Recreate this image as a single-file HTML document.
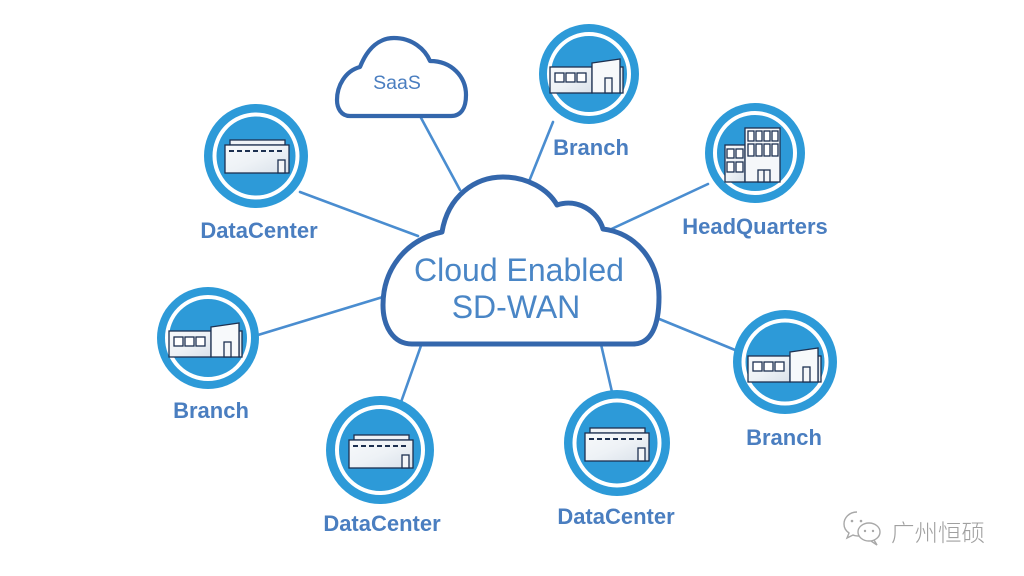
<!DOCTYPE html>
<html><head><meta charset="utf-8">
<style>
html,body{margin:0;padding:0;background:#fff;}
svg{display:block;}
.lbl{font-family:"Liberation Sans",Arial,sans-serif;font-weight:bold;font-size:22px;fill:#4a7ec0;text-anchor:middle;}
.main{font-family:"Liberation Sans",Arial,sans-serif;font-size:32px;fill:#4a86c6;text-anchor:middle;}
</style></head>
<body>
<svg width="1024" height="576" viewBox="0 0 1024 576" xmlns="http://www.w3.org/2000/svg">
<defs>
<linearGradient id="g" x1="0" y1="0" x2="1" y2="1">
<stop offset="0" stop-color="#f7f9fb"/><stop offset="0.5" stop-color="#eef2f6"/><stop offset="1" stop-color="#d9e1ea"/>
</linearGradient>
<g id="dc" stroke="#1d3050" stroke-width="1.3" fill="url(#g)">
<rect x="-26" y="-16" width="55" height="5" fill="#eef2f6"/>
<rect x="-31" y="-11" width="64" height="28"/>
<line x1="-27" y1="-5" x2="29" y2="-5" stroke-width="2" stroke-dasharray="5 3"/>
<rect x="22" y="4" width="7" height="13" fill="#f4f6f8"/>
</g>
<g id="br" stroke="#1d3050" stroke-width="1.3" fill="url(#g)">
<rect x="-39" y="-7" width="42" height="26"/>
<rect x="-34" y="-1" width="9" height="9" fill="#fff"/>
<rect x="-23" y="-1" width="9" height="9" fill="#fff"/>
<rect x="-12" y="-1" width="9" height="9" fill="#fff"/>
<rect x="31" y="-7" width="3" height="26" fill="#e6ebf0"/>
<polygon points="3,-11 31,-15 31,19 3,19" fill="#f7f9fb"/>
<rect x="16" y="4" width="7" height="15" fill="#f4f6f8"/>
</g>
<g id="hq" stroke="#1d3050" stroke-width="1.3" fill="url(#g)">
<rect x="-30" y="-8" width="20" height="37"/>
<rect x="-28" y="-4" width="7" height="9" fill="#fff"/>
<rect x="-19" y="-4" width="7" height="9" fill="#fff"/>
<rect x="-28" y="9" width="7" height="10" fill="#fff"/>
<rect x="-19" y="9" width="7" height="10" fill="#fff"/>
<rect x="-10" y="-25" width="35" height="54" fill="#f5f7fa"/>
<rect x="-7" y="-22" width="6" height="10" fill="#fff"/>
<rect x="1" y="-22" width="6" height="10" fill="#fff"/>
<rect x="9" y="-22" width="6" height="10" fill="#fff"/>
<rect x="17" y="-22" width="6" height="10" fill="#fff"/>
<rect x="-7" y="-9" width="6" height="12" fill="#fff"/>
<rect x="1" y="-9" width="6" height="12" fill="#fff"/>
<rect x="9" y="-9" width="6" height="12" fill="#fff"/>
<rect x="17" y="-9" width="6" height="12" fill="#fff"/>
<rect x="3" y="17" width="12" height="12" fill="#f4f6f8"/>
<line x1="9" y1="17" x2="9" y2="29"/>
</g>
</defs>

<!-- connectors -->
<g stroke="#4a8dd0" stroke-width="2.6" stroke-linecap="round">
<line x1="420" y1="116" x2="460" y2="190"/>
<line x1="553" y1="122" x2="528" y2="184"/>
<line x1="708" y1="184" x2="605" y2="232"/>
<line x1="300" y1="192" x2="418" y2="236"/>
<line x1="258" y1="335" x2="386" y2="296"/>
<line x1="400" y1="405" x2="423" y2="340"/>
<line x1="612" y1="392" x2="600" y2="340"/>
<line x1="740" y1="352" x2="652" y2="316"/>
</g>

<!-- main cloud -->
<path d="M 412,344 C 393,344 383,326 383,305 C 383,270 405,240 442,232 C 448,196 475,177 503,177 C 527,177 548,189 557,205 C 577,198 598,211 603,229 C 636,233 659,261 659,297 C 659,326 651,344 633,344 Z" fill="#fff" stroke="#3467ac" stroke-width="5" stroke-linejoin="round"/>
<text class="main" x="519" y="281">Cloud Enabled</text>
<text class="main" x="516" y="318">SD-WAN</text>

<!-- SaaS cloud -->
<path d="M 350,116 C 341,116 337,108 337,100 C 337,86 345,71 360,67 C 368,47 380,38 394,38 C 412,38 425,49 430,61 C 452,61 466,77 466,95 C 466,108 461,116 451,116 Z" fill="#fff" stroke="#3467ac" stroke-width="4.2" stroke-linejoin="round"/>
<text x="397" y="89" font-family="Liberation Sans, Arial, sans-serif" font-size="19.5" fill="#4a7ec0" text-anchor="middle">SaaS</text>

<!-- nodes -->
<g>
<circle cx="256" cy="156" r="52" fill="#2d9ad8"/><circle cx="256" cy="156" r="41.5" fill="none" stroke="#fff" stroke-width="4"/>
<use href="#dc" transform="translate(256,156)"/>
<text class="lbl" x="259" y="238">DataCenter</text>

<circle cx="589" cy="74" r="50" fill="#2d9ad8"/><circle cx="589" cy="74" r="40" fill="none" stroke="#fff" stroke-width="4"/>
<use href="#br" transform="translate(589,74)"/>
<text class="lbl" x="591" y="155">Branch</text>

<circle cx="755" cy="153" r="50" fill="#2d9ad8"/><circle cx="755" cy="153" r="40" fill="none" stroke="#fff" stroke-width="4"/>
<use href="#hq" transform="translate(755,153)"/>
<text class="lbl" x="755" y="234">HeadQuarters</text>

<circle cx="208" cy="338" r="51" fill="#2d9ad8"/><circle cx="208" cy="338" r="41" fill="none" stroke="#fff" stroke-width="4"/>
<use href="#br" transform="translate(208,338)"/>
<text class="lbl" x="211" y="418">Branch</text>

<circle cx="380" cy="450" r="54" fill="#2d9ad8"/><circle cx="380" cy="450" r="43" fill="none" stroke="#fff" stroke-width="4"/>
<use href="#dc" transform="translate(380,451)"/>
<text class="lbl" x="382" y="531">DataCenter</text>

<circle cx="617" cy="443" r="53" fill="#2d9ad8"/><circle cx="617" cy="443" r="42.5" fill="none" stroke="#fff" stroke-width="4"/>
<use href="#dc" transform="translate(616,444)"/>
<text class="lbl" x="616" y="524">DataCenter</text>

<circle cx="785" cy="362" r="52" fill="#2d9ad8"/><circle cx="785" cy="362" r="41.5" fill="none" stroke="#fff" stroke-width="4"/>
<use href="#br" transform="translate(787,363)"/>
<text class="lbl" x="784" y="445">Branch</text>
</g>

<!-- watermark -->
<g fill="none" stroke="#a8a8a8" stroke-width="1.4">
<path d="M 857,512 C 849,512 844,518 844,524 C 844,528 846,531 849,533 L 847,538 L 853,535 C 855,536 857,536 859,536"/>
<ellipse cx="869" cy="532" rx="11" ry="9" fill="#fff"/>
<path d="M 874,540 L 877,545 L 871,541"/>
</g>
<g fill="#a8a8a8"><circle cx="852" cy="521" r="1.3"/><circle cx="861" cy="521" r="1.3"/><circle cx="865" cy="531" r="1.2"/><circle cx="873" cy="531" r="1.2"/></g>
<text x="891" y="541" font-family="Liberation Sans, 'Noto Sans CJK SC', sans-serif" font-size="23.5" font-weight="300" fill="#a0a0a0">广州恒硕</text>
</svg>
</body></html>
